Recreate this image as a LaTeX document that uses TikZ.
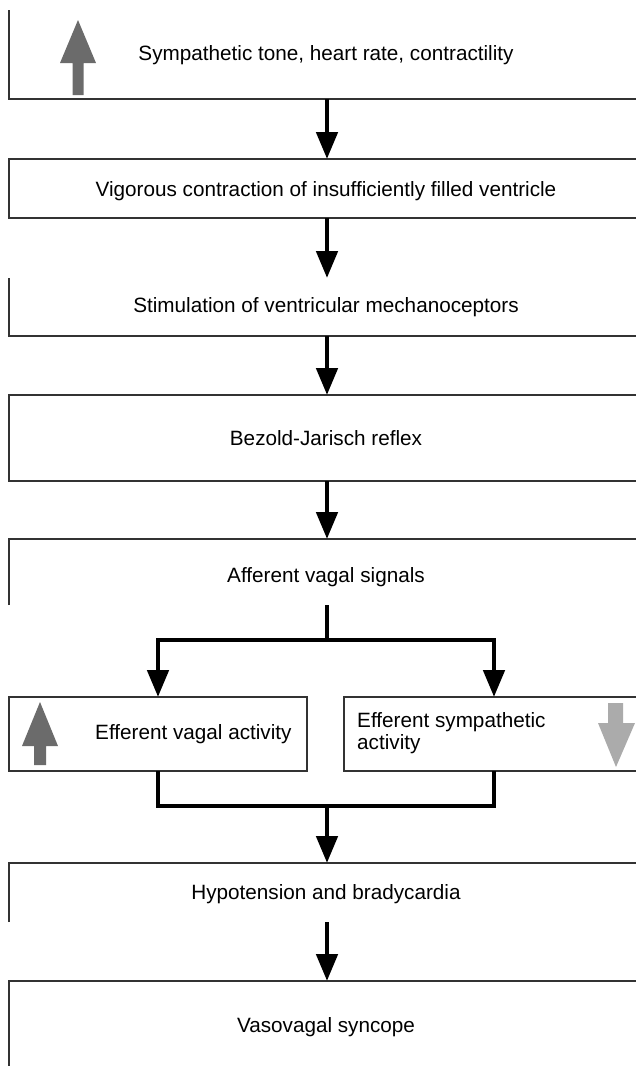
\documentclass[tikz,border=0pt]{standalone}
\usepackage{fontspec}
\setmainfont{Liberation Sans}
\usetikzlibrary{arrows.meta,calc}
\begin{document}
\begin{tikzpicture}[x=1pt,y=-1pt,
  boxarea/.style={draw=none, minimum width=636pt, inner sep=0pt, outer sep=0pt},
  smallbox/.style={draw=black!80, line width=1.4pt, minimum width=298pt, minimum height=74pt, inner sep=0pt, outer sep=0pt},
  boxline/.style={draw=black!80, line width=1.4pt},
  lbl/.style={font=\fontsize{20.7}{22}\selectfont, text height=15pt, text depth=0pt, inner sep=0pt},
  lbltwo/.style={font=\fontsize{20.7}{22}\selectfont, inner sep=0pt, align=left},
  conn/.style={line width=4.8pt, -{Triangle[width=21pt,length=27pt]}},
  plainconn/.style={line width=4.8pt},
  darkarrow/.style={fill=black!58},
  lightarrow/.style={fill=black!33},
]
\useasboundingbox (0,0) rectangle (636,1066);

% box areas
\node[boxarea, minimum height=89pt] (b1) at (327,54.5) {};
\node[boxarea, minimum height=59pt] (b2) at (327,188.5) {};
\node[boxarea, minimum height=58pt] (b3) at (327,307) {};
\node[boxarea, minimum height=86pt] (b4) at (327,438) {};
\node[boxarea, minimum height=66pt] (b5) at (327,572) {};
\node[smallbox] (lv) at (158,734) {};
\node[smallbox, minimum width=300pt] (rv) at (494,734) {};
\node[boxarea, minimum height=59pt] (b7) at (327,892.5) {};
\node[boxarea, minimum height=89pt] (b8) at (327,1025.5) {};

% visible borders
\draw[boxline] (b1.north west) -- (b1.south west) -- (b1.south east);
\draw[boxline] (b2.south east) -- (b2.south west) -- (b2.north west) -- (b2.north east);
\draw[boxline] (b3.north west) -- (b3.south west) -- (b3.south east);
\draw[boxline] (b4.south east) -- (b4.south west) -- (b4.north west) -- (b4.north east);
\draw[boxline] (b5.south west) -- (b5.north west) -- (b5.north east);
\draw[boxline] (b7.south west) -- (b7.north west) -- (b7.north east);
\draw[boxline] (b8.south west) -- (b8.north west) -- (b8.north east);

% texts
\node[lbl] (t1) at (326,53) {Sympathetic tone, heart rate, contractility};
\node[lbl] (t2) at (326,189) {Vigorous contraction of insufficiently filled ventricle};
\node[lbl] (t3) at (326,305) {Stimulation of ventricular mechanoceptors};
\node[lbl] (t4) at (326,438) {Bezold-Jarisch reflex};
\node[lbl] (t5) at (326,575) {Afferent vagal signals};
\node[lbl, anchor=west] (tl) at (95,732) {Efferent vagal activity};
\node[lbltwo, anchor=west] (tr) at (357,733) {Efferent sympathetic\\activity};
\node[lbl] (t7) at (326,892) {Hypotension and bradycardia};
\node[lbl] (t8) at (326,1025) {Vasovagal syncope};

% block arrows
\fill[darkarrow] (78,20) -- (96,63) -- (83.5,63) -- (83.5,95) -- (72.5,95) -- (72.5,63) -- (60,63) -- cycle;
\fill[darkarrow] (40,702) -- (58,746) -- (46,746) -- (46,765) -- (34,765) -- (34,746) -- (22,746) -- cycle;
\fill[lightarrow] (608,703) -- (623,703) -- (623,723) -- (635,723) -- (616,767) -- (598,723) -- (608,723) -- cycle;

% connectors
\coordinate (split) at (327,640);
\coordinate (join) at (327,806);
\draw[conn] (b1.south) -- (b2.north);
\draw[conn] (b2.south) -- (b3.north);
\draw[conn] (b3.south) -- (b4.north);
\draw[conn] (b4.south) -- (b5.north);
\draw[plainconn] (b5.south) -- (split);
\draw[conn] (split) -| (lv.north);
\draw[conn] (split) -| (rv.north);
\draw[plainconn] (lv.south) |- (join) -| (rv.south);
\draw[conn] (join) -- (b7.north);
\draw[conn] (b7.south) -- (b8.north);
\end{tikzpicture}
\end{document}
